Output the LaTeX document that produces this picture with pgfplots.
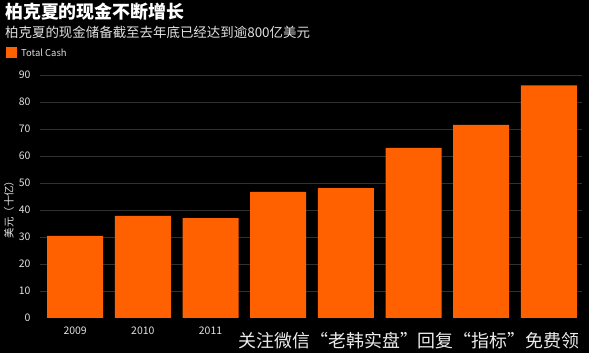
\documentclass[border=0pt]{standalone}
\usepackage{pgfplots}
\pgfplotsset{compat=1.18}
\usepackage{fontspec}
\setmainfont{Noto Sans CJK SC}
\definecolor{barc}{RGB}{255,96,0}
\definecolor{txt}{RGB}{225,225,225}
\definecolor{gridc}{RGB}{48,48,48}
\begin{document}
\begin{tikzpicture}
\path[use as bounding box, fill=black] (0bp,0bp) rectangle (589bp,353bp);
\node[anchor=west, text=white, inner sep=0, font=\fontsize{18}{18}\selectfont\bfseries] at (5bp,341bp) {柏克夏的现金不断增长};
\node[anchor=west, text=txt, inner sep=0, font=\fontsize{13.5}{13.5}\selectfont] at (5bp,321bp) {柏克夏的现金储备截至去年底已经达到逾800亿美元};
\fill[barc] (6bp,295bp) rectangle (17bp,306bp);
\node[anchor=west, text=txt, inner sep=0, font=\fontsize{9.5}{9.5}\selectfont] at (21bp,300.5bp) {Total Cash};
\begin{axis}[
  at={(40bp,35bp)}, anchor=south west, scale only axis,
  width=542bp, height=243bp,
  xmin=-0.52, xmax=7.49, ymin=0, ymax=90,
  ybar, bar width=56bp,
  xtick={0,...,7},
  xticklabels={2009,2010,2011,,,,,},
  ytick={0,10,...,90},
  axis x line*=bottom, axis y line*=left,
  y axis line style={draw=none},
  x axis line style={draw=gridc!150},
  x tick style={draw=gridc!150},
  y tick style={draw=none},
  tick align=outside,
  major tick length=3bp,
  ymajorgrids, grid style={draw=gridc, line width=0.4bp},
  tick label style={text=txt, font=\fontsize{10.5}{10.5}\selectfont},
  yticklabel style={xshift=-3bp},
  xticklabel style={yshift=-2bp},
  /pgf/number format/assume math mode=true,
]
\addplot[fill=barc, draw=none] coordinates {
 (0,30.4) (1,37.8) (2,37.0) (3,46.7) (4,48.1) (5,63.0) (6,71.5) (7,86.2)
};
\end{axis}
\node[rotate=90, text=txt, inner sep=0, font=\fontsize{10.5}{10.5}\selectfont] at (9bp,146bp) {美元（十亿）};
\node[text=white!92!black, inner sep=0, font=\fontsize{18}{18}\selectfont] at (409bp,12bp) {关注微信“老韩实盘”回复“指标”免费领};
\end{tikzpicture}
\end{document}
